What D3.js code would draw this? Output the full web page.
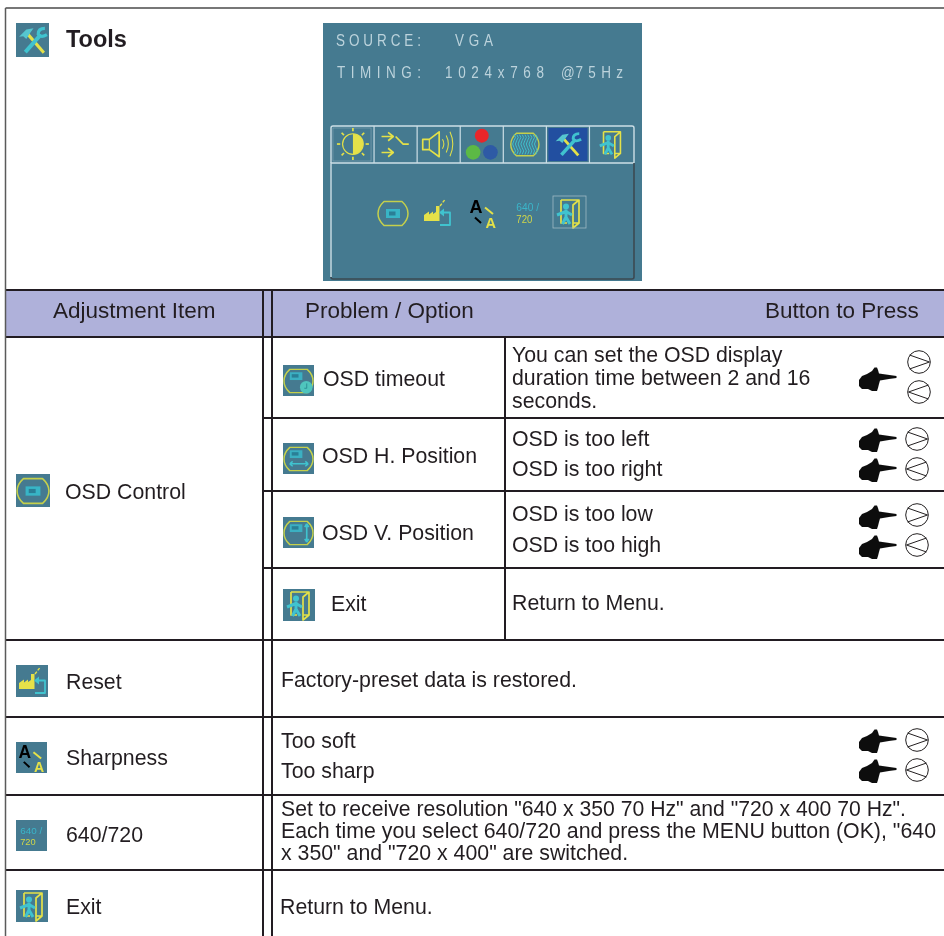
<!DOCTYPE html>
<html>
<head>
<meta charset="utf-8">
<style>
  html, body { margin: 0; padding: 0; background: #fff; overflow: hidden; }
  svg { display: block; }
  text { font-family: "Liberation Sans", Arial, sans-serif; fill: #231f20; }
</style>
</head>
<body>
<svg width="944" height="936"></svg>
<script src="https://cdnjs.cloudflare.com/ajax/libs/d3/7.8.5/d3.min.js"></script>
<script>
// table content
var titleLabel = 'Tools';
var headerLabels = ['Adjustment Item', 'Problem / Option', 'Button to Press'];
var itemLabels = ['OSD Control', 'Reset', 'Sharpness', '640/720', 'Exit'];
var optionLabels = ['OSD timeout', 'OSD H. Position', 'OSD V. Position', 'Exit'];
var timeoutLines = ['You can set the OSD display', 'duration time between 2 and 16', 'seconds.'];
var problemLines = ['OSD is too left', 'OSD is too right', 'OSD is too low', 'OSD is too high', 'Return to Menu.'];
var resetLine = 'Factory-preset data is restored.';
var sharpLines = ['Too soft', 'Too sharp'];
var resolutionLines = [
  'Set to receive resolution "640 x 350 70 Hz" and "720 x 400 70 Hz".',
  'Each time you select 640/720 and press the MENU button (OK), "640',
  'x 350" and "720 x 400" are switched.'
];
var exitLine = 'Return to Menu.';
var osdLabels = ['SOURCE:', 'VGA', 'TIMING:', '1 0 2 4 x 7 6 8', '@7 5 H z'];
var osdTabs = ['sun', 'arrows', 'speaker', 'rgb', 'wave', 'tools', 'exit'];
var osdMenu = ['osd', 'reset', 'sharp', 'res', 'exit'];

// layout, kept apart from the content
var width = 944, height = 936;
var rowKeys = ['head', 'headEnd', 'timeout', 'hpos', 'vpos', 'osdExit', 'reset', 'sharp', 'res'];
var rowEdges = [290, 337, 418, 491, 568, 640, 717, 795, 870];
var y = d3.scaleOrdinal(rowKeys, rowEdges);
var colKeys = ['left', 'itemEnd', 'optStart', 'probStart', 'right'];
var x = d3.scaleOrdinal(colKeys, [5.5, 263, 272, 505, 944]);
var tabX = d3.scalePoint().domain(osdTabs).range([352.5, 611]);
var menuX = d3.scaleOrdinal(osdMenu, [393, 437, 483, 528, 569]);

var INK = '#231f20', TEAL = '#457a90', YEL = '#e4e148', CYAN = '#3fc3cf', OSDBORDER = '#cddfe6';

var svg = d3.select('svg');
var defs = svg.append('defs');
defs.append('filter').attr('id', 'soft').append('feGaussianBlur').attr('stdDeviation', 0.35);
var root = svg.append('g').attr('filter', 'url(#soft)');

root.append('rect').attr('width', width).attr('height', height).attr('fill', '#fff');

// header band
root.append('rect')
  .attr('x', x('left')).attr('y', y('head'))
  .attr('width', x('right') - x('left')).attr('height', y('headEnd') - y('head'))
  .attr('fill', '#afb1da');

// rules
var hRules = [
  ['left', 'right', 'head'], ['left', 'right', 'headEnd'],
  ['itemEnd', 'right', 'timeout'], ['itemEnd', 'right', 'hpos'], ['itemEnd', 'right', 'vpos'],
  ['left', 'right', 'osdExit'], ['left', 'right', 'reset'], ['left', 'right', 'sharp'], ['left', 'right', 'res']
];
root.selectAll('.hr').data(hRules).enter().append('line')
  .attr('class', 'hr')
  .attr('x1', function (d) { return x(d[0]); })
  .attr('x2', function (d) { return x(d[1]); })
  .attr('y1', function (d) { return y(d[2]); })
  .attr('y2', function (d) { return y(d[2]); })
  .attr('stroke', INK).attr('stroke-width', 2);

root.selectAll('.vr').data([
  ['itemEnd', y('head'), height], ['optStart', y('head'), height], ['probStart', y('headEnd'), y('osdExit')]
]).enter().append('line')
  .attr('class', 'vr')
  .attr('x1', function (d) { return x(d[0]); })
  .attr('x2', function (d) { return x(d[0]); })
  .attr('y1', function (d) { return d[1]; })
  .attr('y2', function (d) { return d[2]; })
  .attr('stroke', INK).attr('stroke-width', 2);

// outer frame is thinner and grey
root.append('line').attr('x1', x('left')).attr('x2', width).attr('y1', 8).attr('y2', 8)
  .attr('stroke', '#4a4a4a').attr('stroke-width', 1.3);
root.append('line').attr('x1', x('left')).attr('x2', x('left')).attr('y1', 8).attr('y2', height)
  .attr('stroke', '#5a5a5a').attr('stroke-width', 1.5);

// text
var BODY = 21.3;
var labels = [
  { t: titleLabel, x: 66, y: 47, s: 23.5, w: 'bold' },
  { t: headerLabels[0], x: 53, y: 318, s: 22.5 },
  { t: headerLabels[1], x: 305, y: 318, s: 22.5 },
  { t: headerLabels[2], x: 765, y: 318, s: 22.5 },
  { t: itemLabels[0], x: 65, y: 499 },
  { t: itemLabels[1], x: 66, y: 689 },
  { t: itemLabels[2], x: 66, y: 765 },
  { t: itemLabels[3], x: 66, y: 842 },
  { t: itemLabels[4], x: 66, y: 914 },
  { t: optionLabels[0], x: 323, y: 386 },
  { t: optionLabels[1], x: 322, y: 463 },
  { t: optionLabels[2], x: 322, y: 540 },
  { t: optionLabels[3], x: 331, y: 611 },
  { t: timeoutLines[0], x: 512, y: 362 },
  { t: timeoutLines[1], x: 512, y: 385 },
  { t: timeoutLines[2], x: 512, y: 408 },
  { t: problemLines[0], x: 512, y: 446 },
  { t: problemLines[1], x: 512, y: 476 },
  { t: problemLines[2], x: 512, y: 521 },
  { t: problemLines[3], x: 512, y: 552 },
  { t: problemLines[4], x: 512, y: 610 },
  { t: resetLine, x: 281, y: 687 },
  { t: sharpLines[0], x: 281, y: 748 },
  { t: sharpLines[1], x: 281, y: 778 },
  { t: resolutionLines[0], x: 281, y: 816, l: 625 },
  { t: resolutionLines[1], x: 281, y: 838, l: 655 },
  { t: resolutionLines[2], x: 281, y: 860 },
  { t: exitLine, x: 280, y: 914 }
];
root.selectAll('.label').data(labels).enter().append('text')
  .attr('class', 'label')
  .attr('x', function (d) { return d.x; })
  .attr('y', function (d) { return d.y; })
  .attr('font-size', function (d) { return d.s || BODY; })
  .attr('font-weight', function (d) { return d.w || 'normal'; })
  .attr('textLength', function (d) { return d.l || null; })
  .attr('lengthAdjust', 'spacingAndGlyphs')
  .text(function (d) { return d.t; });

// icon glyphs, all drawn in a 32 unit box
function stroke(g, d, c, w) {
  return g.append('path').attr('d', d).attr('fill', 'none').attr('stroke', c).attr('stroke-width', w)
    .attr('stroke-linejoin', 'round');
}
function fill(g, d, c) {
  return g.append('path').attr('d', d).attr('fill', c);
}
var glyph = {
  tools: function (g) {
    stroke(g, 'M11 10L27 28', YEL, 3);
    fill(g, 'M3 13L10 6L17 5L14 9L10 15L7 12.5Z', '#55c6cf');
    stroke(g, 'M24 11L9 27.5', CYAN, 3.8);
    stroke(g, 'M28 5Q21.5 5 21.5 10.5Q24 14.5 30 11', CYAN, 3);
  },
  barrel: function (g, c) {
    stroke(g, 'M7 4.5H25Q31 10 31 16.5Q31 23 25 28.5H7Q1 23 1 16.5Q1 10 7 4.5Z', c || '#c5d04c', 1.5);
  },
  osd: function (g) {
    glyph.barrel(g);
    g.append('rect').attr('x', 9).attr('y', 12).attr('width', 14).attr('height', 9).attr('fill', '#37b5c6');
    g.append('rect').attr('x', 12).attr('y', 14.5).attr('width', 6.5).attr('height', 4).attr('fill', '#2a7f96');
  },
  smallOsd: function (g) {
    g.append('rect').attr('x', 7).attr('y', 7.5).attr('width', 13).attr('height', 8).attr('fill', '#3ab0c2');
    g.append('rect').attr('x', 9).attr('y', 9.5).attr('width', 7).attr('height', 3.5).attr('fill', '#2a7f96');
  },
  timeout: function (g) {
    glyph.barrel(g);
    glyph.smallOsd(g);
    g.append('circle').attr('cx', 24).attr('cy', 23).attr('r', 6.5).attr('fill', '#4fc5bd');
    stroke(g, 'M24.5 19V24H22', '#2d8f96', 1);
  },
  hpos: function (g) {
    glyph.barrel(g);
    glyph.smallOsd(g);
    stroke(g, 'M7 21.5H26M7 21.5L10 19M7 21.5L10 24M26 21.5L23 19M26 21.5L23 24', CYAN, 1.5);
  },
  vpos: function (g) {
    glyph.barrel(g);
    glyph.smallOsd(g);
    stroke(g, 'M24.5 7V26M24.5 7L22.5 10.5M24.5 7L26.5 10.5M24.5 26L22.5 22.5M24.5 26L26.5 22.5', CYAN, 1.7);
  },
  reset: function (g) {
    fill(g, 'M3 18L8 14.5V17.5L12 14.5V17L15 15V9L18.5 9V24H3Z', YEL);
    stroke(g, 'M19 9L24 2.5', YEL, 1.4).attr('stroke-dasharray', '3 1.5');
    stroke(g, 'M21 15.5H29V28H19', CYAN, 1.8);
    fill(g, 'M18 15.5L23 11.5V19.5Z', CYAN);
  },
  sharp: function (g) {
    g.append('text').attr('x', 2.5).attr('y', 16).attr('font-size', 18).attr('font-weight', 'bold')
      .style('fill', '#000').text('A');
    g.append('text').attr('x', 18.5).attr('y', 30.5).attr('font-size', 14.5).attr('font-weight', 'bold')
      .style('fill', YEL).text('A');
    stroke(g, 'M18 10.5L26 17', YEL, 2);
    stroke(g, 'M8 20.5L14 26', '#000', 2);
  },
  res: function (g) {
    g.append('text').attr('x', 4.3).attr('y', 14.3).attr('font-size', 10.2).attr('textLength', 22.7)
      .attr('lengthAdjust', 'spacingAndGlyphs').style('fill', '#3ab5c9').text('640 /');
    g.append('text').attr('x', 4.3).attr('y', 26.2).attr('font-size', 10.2).attr('textLength', 16)
      .attr('lengthAdjust', 'spacingAndGlyphs').style('fill', '#d0d64a').text('720');
  },
  exit: function (g) {
    stroke(g, 'M8 3H26V26H20M8 3V26H14M26 3L20 8V31L26 26', YEL, 1.7);
    g.append('circle').attr('cx', 13).attr('cy', 9.5).attr('r', 3).attr('fill', CYAN);
    stroke(g, 'M13 12.5V20L9.5 27M13 20L17 27M4 18L13 14.5L19 18', CYAN, 3);
  },
  sun: function (g) {
    g.append('circle').attr('cx', 16.4).attr('cy', 16).attr('r', 11).attr('fill', 'none').attr('stroke', YEL).attr('stroke-width', 1.2);
    fill(g, 'M16.4 5A11 11 0 0 1 16.4 27Z', YEL);
    d3.range(8).forEach(function (i) {
      var a = i * Math.PI / 4;
      stroke(g, 'M' + (16.4 + 13.5 * Math.cos(a)) + ' ' + (16 + 13.5 * Math.sin(a)) +
        'L' + (16.4 + 17 * Math.cos(a)) + ' ' + (16 + 17 * Math.sin(a)), YEL, 1.8);
    });
  },
  arrows: function (g) {
    stroke(g, 'M1 8H13M8 3.5L13.5 8L8 12.5', YEL, 1.8);
    stroke(g, 'M1 25H13M8 20.5L13.5 25L8 29.5', YEL, 1.8);
    stroke(g, 'M16 8L24 16H30', YEL, 1.8);
  },
  speaker: function (g) {
    stroke(g, 'M-1 11H6L16.5 3V29.5L6 22H-1Z', YEL, 1.8);
    stroke(g, 'M6 11V22', YEL, 1.3);
    stroke(g, 'M20 11Q23 16 20 21M24 7Q28.5 16 24 25M28 3Q34 16 28 29', YEL, 1.1);
  },
  rgb: function (g) {
    g.append('circle').attr('cx', 16).attr('cy', 7.1).attr('r', 7.4).attr('fill', '#e8262a');
    g.append('circle').attr('cx', 6.8).attr('cy', 24.8).attr('r', 7.8).attr('fill', '#5cb944');
    g.append('circle').attr('cx', 25.2).attr('cy', 24.8).attr('r', 7.8).attr('fill', '#2d5aa5');
  },
  wave: function (g) {
    glyph.barrel(g);
    d3.range(9).forEach(function (i) {
      var px = 4.5 + i * 2.9;
      stroke(g, 'M' + px + ' 6Q' + (px + 3) + ' 9 ' + px + ' 12Q' + (px - 3) + ' 16 ' + px + ' 20Q' + (px + 3) + ' 23 ' + px + ' 27', CYAN, 1);
    });
  }
};

// icons in the table, a teal square under each glyph
var tableIcons = [
  ['tools', 16, 23, 33, 34],
  ['osd', 16, 474, 34, 33],
  ['timeout', 283, 365, 31, 31],
  ['hpos', 283, 443, 31, 31],
  ['vpos', 283, 517, 31, 31],
  ['exit', 283, 589, 32, 32],
  ['reset', 16, 665, 32, 32],
  ['sharp', 16, 742, 31, 31],
  ['res', 16, 820, 31, 31],
  ['exit', 16, 890, 32, 32]
];
var icons = root.selectAll('.icon').data(tableIcons).enter().append('g')
  .attr('class', 'icon')
  .attr('transform', function (d) { return 'translate(' + d[1] + ',' + d[2] + ')'; });
icons.append('rect')
  .attr('width', function (d) { return d[3]; })
  .attr('height', function (d) { return d[4]; })
  .attr('fill', TEAL);
icons.append('g')
  .attr('transform', function (d) { return 'scale(' + d[3] / 32 + ',' + d[4] / 32 + ')'; })
  .each(function (d) { glyph[d[0]](d3.select(this)); });

// osd screen, its bitmap font is narrow and tall
var osd = root.append('g');
osd.append('rect').attr('x', 323).attr('y', 23).attr('width', 319).attr('height', 258).attr('fill', TEAL);
var osdText = [
  { t: osdLabels[0], x: 336, y: 46, w: 85 },
  { t: osdLabels[1], x: 455, y: 46, w: 38 },
  { t: osdLabels[2], x: 337, y: 78, w: 84 },
  { t: osdLabels[3], x: 445, y: 78, w: 99 },
  { t: osdLabels[4], x: 561, y: 78, w: 62 }
];
osd.selectAll('.osdtext').data(osdText).enter().append('text')
  .attr('class', 'osdtext')
  .attr('transform', function (d) { return 'translate(' + d.x + ',' + d.y + ') scale(1,1.2)'; })
  .attr('font-size', 13.5)
  .attr('textLength', function (d) { return d.w; })
  .attr('lengthAdjust', 'spacing')
  .style('fill', '#bcd3dc')
  .text(function (d) { return d.t; });

// tab row and panel frame
var tabTop = 126, tabBot = 163, panelBot = 279, panelL = 331, panelR = 634;
osd.append('path')
  .attr('d', 'M' + panelL + ' ' + tabBot + 'V' + (tabTop + 2) + 'Q' + panelL + ' ' + tabTop + ' ' + (panelL + 2) + ' ' + tabTop + 'H' + (panelR - 2) +
    'Q' + panelR + ' ' + tabTop + ' ' + panelR + ' ' + (tabTop + 2) + 'V' + tabBot)
  .attr('fill', 'none').attr('stroke', OSDBORDER).attr('stroke-width', 1.4);
osd.append('path')
  .attr('d', 'M' + panelL + ' ' + (panelBot - 2) + 'V' + tabBot + 'H' + panelR)
  .attr('fill', 'none').attr('stroke', OSDBORDER).attr('stroke-width', 1.4);
osd.append('path')
  .attr('d', 'M' + panelR + ' ' + tabBot + 'V' + (panelBot - 2) + 'Q' + panelR + ' ' + panelBot + ' ' + (panelR - 2) + ' ' + panelBot + 'H' + (panelL + 2) +
    'Q' + panelL + ' ' + panelBot + ' ' + panelL + ' ' + (panelBot - 2))
  .attr('fill', 'none').attr('stroke', '#3d4a52').attr('stroke-width', 1.6);

var tabStep = tabX.step();
osd.selectAll('.tabline').data(osdTabs.slice(1)).enter().append('line')
  .attr('class', 'tabline')
  .attr('x1', function (d) { return tabX(d) - tabStep / 2; })
  .attr('x2', function (d) { return tabX(d) - tabStep / 2; })
  .attr('y1', tabTop).attr('y2', tabBot)
  .attr('stroke', OSDBORDER).attr('stroke-width', 1.2);
// selected tab and the thin box on the first tab
osd.append('rect')
  .attr('x', tabX('tools') - tabStep / 2 + 2).attr('y', tabTop + 2)
  .attr('width', tabStep - 4).attr('height', tabBot - tabTop - 4)
  .attr('fill', '#2450a0');
osd.append('rect')
  .attr('x', tabX('sun') - tabStep / 2 + 2).attr('y', tabTop + 2)
  .attr('width', tabStep - 5).attr('height', tabBot - tabTop - 4)
  .attr('fill', 'none').attr('stroke', '#7ea2b2').attr('stroke-width', 0.7);

osd.selectAll('.tab').data(osdTabs).enter().append('g')
  .attr('class', 'tab')
  .attr('transform', function (d) { return 'translate(' + (tabX(d) - 15) + ',' + (tabTop + 3) + ') scale(0.94)'; })
  .each(function (d) { glyph[d](d3.select(this)); });

osd.selectAll('.menu').data(osdMenu).enter().append('g')
  .attr('class', 'menu')
  .attr('transform', function (d) { return 'translate(' + (menuX(d) - 16) + ',197)'; })
  .each(function (d) { glyph[d](d3.select(this)); });
osd.append('rect').attr('x', 553).attr('y', 196).attr('width', 33).attr('height', 32)
  .attr('fill', 'none').attr('stroke', '#9fb9c4').attr('stroke-width', 0.8);

// pointing hand and the > < buttons
var handPath = 'M37.5 9L20 6.5L19 3L18 .5L15.5 .5L13 4L8 7L3 9L0 13V19L3 22L9 22L13 24H18L19 21L20 17L21 13.5L30 12L37.5 11Z';
var buttons = [
  { h: 367, cx: 919, cy: 362, dir: 1 },
  { h: null, cx: 919, cy: 392, dir: -1 },
  { h: 428, cx: 917, cy: 439, dir: 1 },
  { h: 458, cx: 917, cy: 469, dir: -1 },
  { h: 505, cx: 917, cy: 515, dir: 1 },
  { h: 535, cx: 917, cy: 545, dir: -1 },
  { h: 729, cx: 917, cy: 740, dir: 1 },
  { h: 759, cx: 917, cy: 770, dir: -1 }
];
root.selectAll('.hand').data(buttons.filter(function (d) { return d.h !== null; })).enter().append('path')
  .attr('class', 'hand')
  .attr('d', handPath)
  .attr('transform', function (d) { return 'translate(859,' + d.h + ')'; })
  .attr('fill', '#111');
var btn = root.selectAll('.btn').data(buttons).enter().append('g')
  .attr('class', 'btn')
  .attr('transform', function (d) { return 'translate(' + d.cx + ',' + d.cy + ') scale(' + d.dir + ',1)'; });
btn.append('circle').attr('r', 11.3).attr('fill', 'none').attr('stroke', INK).attr('stroke-width', 1);
btn.append('path').attr('d', 'M-9.5 -7L10.5 0L-9.5 7').attr('fill', 'none').attr('stroke', INK).attr('stroke-width', 1);
</script>
</body>
</html>
